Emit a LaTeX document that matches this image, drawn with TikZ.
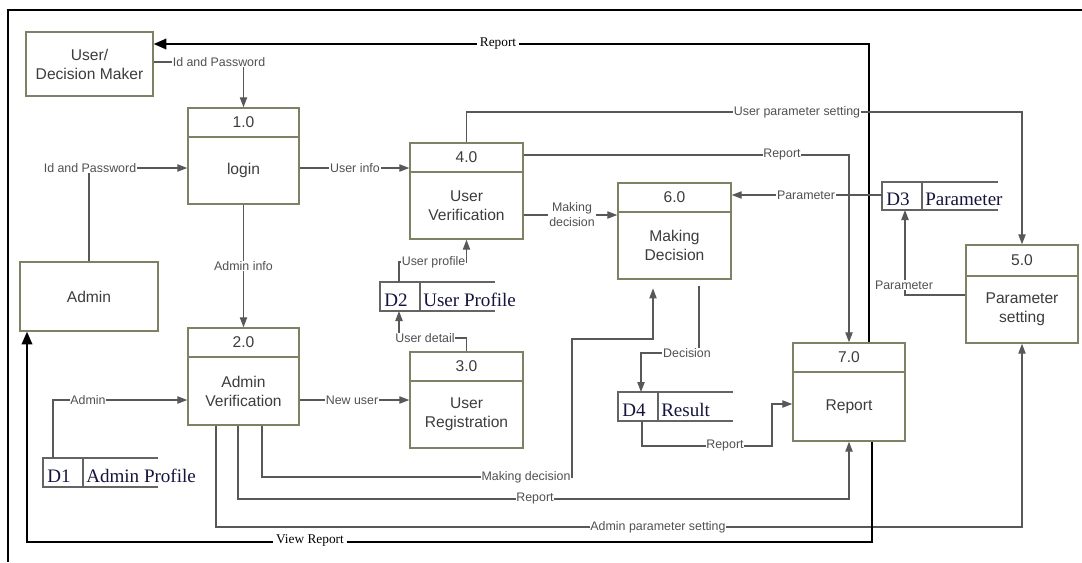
\documentclass[tikz,border=0pt]{standalone}
\usepackage{fontspec}
\setmainfont{Liberation Sans}
\newfontfamily\serifft{Liberation Serif}
\usetikzlibrary{arrows.meta}
\definecolor{boxc}{RGB}{128,128,100}
\definecolor{linec}{RGB}{88,88,88}
\definecolor{txtc}{RGB}{60,60,60}
\definecolor{labc}{RGB}{80,80,80}
\definecolor{storetc}{RGB}{20,20,60}
\definecolor{storelc}{RGB}{100,100,100}
\tikzset{
  procb/.style={draw=boxc, line width=1.1pt, inner sep=0pt},
  boxline/.style={draw=boxc, line width=1.1pt},
  boxtxt/.style={font=\fontsize{11.7}{14.2}\selectfont, text=txtc, align=center, inner sep=0pt},
  storeline/.style={draw=storelc, line width=1pt},
  storetxt/.style={font=\serifft\fontsize{14.3}{16}\selectfont, text=storetc, inner sep=0pt},
  flow/.style={draw=linec, line width=0.9pt, -{Triangle[length=7.5pt,width=5.5pt]}},
  blk/.style={draw=black, line width=1.2pt, -{Triangle[length=9.5pt,width=8pt]}},
  lab/.style={font=\fontsize{9.3}{11}\selectfont, text=labc, fill=white, inner sep=0.6pt, align=center},
  slab/.style={font=\serifft\fontsize{10}{12}\selectfont, text=black, fill=white, inner sep=2pt},
}
\newcommand{\myproc}[8]{%
  \node[procb, minimum width={(#4-#2)*0.75pt}, minimum height={(#5-#3)*0.75pt}] (#1) at ({(#2+#4)/2},{(#3+#5)/2}) {};
  \draw[boxline] (#1.west |- 0,#6) -- (#1.east |- 0,#6);
  \node[boxtxt] (#1num) at ({(#2+#4)/2},{(#3+#6)/2}) {#7};
  \node[boxtxt] (#1txt) at ({(#2+#4)/2},{(#6+#5)/2}) {#8};
}
\newcommand{\mystore}[8]{%
  \node[inner sep=0pt, outer sep=0pt, minimum width={(#4-#2)*0.75pt}, minimum height={(#6-#5)*0.75pt}] (#1) at ({(#2+#4)/2},{(#5+#6)/2}) {};
  \draw[storeline] (#1.north east) -- (#1.north west) -- (#1.south west) -- (#1.south east);
  \draw[storeline] (#1.north west -| #3,0) -- (#1.south west -| #3,0);
  \node[storetxt, anchor=base west] (#1id) at (#2+4,#6-4.5) {#7};
  \node[storetxt, anchor=base west] (#1lab) at (#3+3,#6-4.5) {#8};
}
\begin{document}
\begin{tikzpicture}[x=0.75pt,y=-0.75pt]
\useasboundingbox (0,0) rectangle (1082,562);
% frame
\draw[line width=2.2pt] (8,562) -- (8,10) -- (1082,10);

% external entities
\node[procb, minimum width={127*0.75pt}, minimum height={64*0.75pt}, boxtxt, draw=boxc, line width=1.1pt] (user) at (89.5,64) {User/\\Decision Maker};
\node[procb, minimum width={138*0.75pt}, minimum height={69*0.75pt}, boxtxt, draw=boxc, line width=1.1pt] (admin) at (89,296.5) {Admin};

% processes
\myproc{p1}{188}{108}{299}{204}{137}{1.0}{login}
\myproc{p2}{188}{328}{299}{425}{357}{2.0}{Admin\\Verification}
\myproc{p3}{410}{352}{523}{448}{381}{3.0}{User\\Registration}
\myproc{p4}{410}{143}{523}{239}{172}{4.0}{User\\Verification}
\myproc{p6}{618}{183}{731}{279}{212}{6.0}{Making\\Decision}
\myproc{p5}{966}{245}{1078}{343}{276}{5.0}{Parameter\\setting}
\myproc{p7}{793}{343}{905}{441}{372}{7.0}{Report}

% data stores
\mystore{d1}{43}{83}{158}{458}{487}{D1}{Admin Profile}
\mystore{d2}{380}{420}{495}{282}{311}{D2}{User Profile}
\mystore{d3}{882}{922}{998}{182}{210}{D3}{Parameter}
\mystore{d4}{618}{658}{733}{392}{421}{D4}{Result}

% flows
\draw[blk] (p7.north -| 869,0) |- (user.east |- 0,44);
\node[slab] (l1) at (498,44) {Report};

\draw[flow] (user.east |- 0,62) -| (p1.north);
\node[lab] (l2) at (219,62) {Id and Password};

\draw[flow] (admin.north) |- (p1.west |- 0,168);
\node[lab] (l3) at (90,168) {Id and Password};

\draw[flow] (p1.east |- 0,168) -- (p4.west |- 0,168);
\node[lab] (l4) at (355,168) {User info};

\draw[flow] (p1.south) -- (p2.north);
\node[lab] (l5) at (243.5,266) {Admin info};

\draw[flow] (p4.north) -- (466.5,112) -| (p5.north);
\node[lab] (l6) at (797,112) {User parameter setting};

\draw[flow] (p4.east |- 0,155) -| (p7.north);
\node[lab] (l7) at (782,155) {Report};

\draw[flow] (p4.east |- 0,215) -- (p6.west |- 0,215);
\node[lab, font=\fontsize{9.3}{11.2}\selectfont] (l8) at (572,215) {Making\\decision};

\draw[flow] (d3.west |- 0,195) -- (p6.east |- 0,195);
\node[lab] (l9) at (806,195) {Parameter};

\draw[flow] (p5.west |- 0,295) -| (d3.south -| 905,0);
\node[lab] (l10) at (904,285) {Parameter};

\draw[flow] (d2.north -| 399,0) |- (466.5,262) -- (p4.south);
\node[lab] (l11) at (433.5,262) {User profile};

\draw[flow] (p3.north) |- (399,338) -- (d2.south -| 399,0);
\node[lab] (l12) at (425,338) {User detail};

\draw[flow] (p2.east |- 0,400) -- (p3.west |- 0,400);
\node[lab] (l13) at (352,400) {New user};

\draw[flow] (d1.north -| 53,0) |- (p2.west |- 0,400);
\node[lab] (l14) at (88,400) {Admin};

\draw[flow, shorten >=6.5pt] (p2.south -| 262,0) |- (572,477) |- (653,339) -- (p6.south -| 653,0);
\node[lab] (l15) at (526,477) {Making decision};

\draw[flow] (p2.south -| 238,0) |- (849,499) -- (p7.south);
\node[lab] (l16) at (535,499) {Report};

\draw[flow] (p2.south -| 216,0) |- (1022,527) -- (p5.south);
\node[lab] (l17) at (658,527) {Admin parameter setting};

\draw[blk] (p7.south -| 872,0) |- (27,542) -- (admin.south -| 27,0);
\node[slab] (l18) at (310,540) {View Report};

\draw[flow, shorten <=4.5pt] (p6.south -| 699,0) |- (641,353) -- (d4.north -| 641,0);
\node[lab] (l19) at (687,353) {Decision};

\draw[flow] (d4.south -| 642,0) |- (772,446) |- (p7.west |- 0,404);
\node[lab] (l20) at (725,446) {Report};
\end{tikzpicture}
\end{document}
